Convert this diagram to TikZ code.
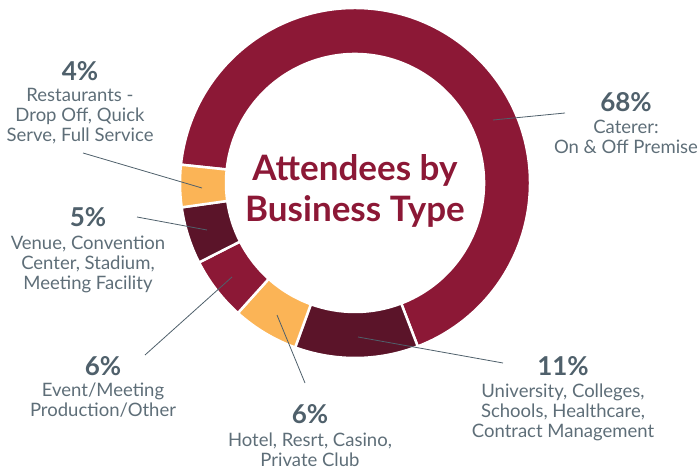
\documentclass[tikz,border=0pt]{standalone}
\usepackage{fontspec}
\setmainfont{Lato}
\usepackage{xcolor}
\usetikzlibrary{positioning}
\definecolor{wine}{HTML}{8C1836}
\definecolor{plum}{HTML}{5B1429}
\definecolor{amber}{HTML}{FBB456}
\definecolor{slate}{HTML}{4F606B}
\definecolor{mist}{HTML}{5E6E78}

\begin{document}
\begin{tikzpicture}[x = 1pt, y = -1pt,
  pct/.style = {anchor = base, inner sep = 0pt, text = slate, font = \fontsize{26}{28}\selectfont\bfseries},
  desc/.style = {inner sep = 0pt, text = mist, align = center, font = \fontsize{18.5}{20}\selectfont},
  heading/.style = {inner sep = 0pt, text = wine, align = center, font = \fontsize{35}{41}\selectfont\bfseries},
  leader/.style = {draw = slate, line width = 0.8pt},
  slice/.style = {draw = white, line width = 2.5pt}]
\useasboundingbox (0, 0) rectangle (699, 470);
\begin{scope}[shift = {(355, 183)}, y = 1pt]
\filldraw [slice, fill = wine] (174:175) arc (174:-69:175) -- (-69:129) arc (-69:174:129) -- cycle;
\filldraw [slice, fill = plum] (-69:175) arc (-69:-110:175) -- (-110:129) arc (-110:-69:129) -- cycle;
\filldraw [slice, fill = amber] (-110:175) arc (-110:-132:175) -- (-132:129) arc (-132:-110:129) -- cycle;
\filldraw [slice, fill = wine] (-132:175) arc (-132:-153:175) -- (-153:129) arc (-153:-132:129) -- cycle;
\filldraw [slice, fill = plum] (-153:175) arc (-153:-172:175) -- (-172:129) arc (-172:-153:129) -- cycle;
\filldraw [slice, fill = amber] (-172:175) arc (-172:-186:175) -- (-186:129) arc (-186:-172:129) -- cycle;
\end{scope}
\node [heading] (title) at (355, 191) {Attendees by\\Business Type};
\node [pct] (n68) at (626, 112) {68\%};
\node [desc, below = 8pt of n68.base] (t68) {Caterer:\\On \& Off Premise};
\node [pct] (n11) at (563, 375) {11\%};
\node [desc, below = 9pt of n11.base] (t11) {University, Colleges,\\Schools, Healthcare,\\Contract Management};
\node [pct] (nhotel) at (310, 423) {6\%};
\node [desc, below = 10pt of nhotel.base] (thotel) {Hotel, Resrt, Casino,\\Private Club};
\node [pct] (nevent) at (103, 375) {6\%};
\node [desc, below = 8pt of nevent.base] (tevent) {Event/Meeting\\Production/Other};
\node [pct] (nvenue) at (88, 227) {5\%};
\node [desc, below = 9pt of nvenue.base] (tvenue) {Venue, Convention\\Center, Stadium,\\Meeting Facility};
\node [pct] (nrest) at (80, 81) {4\%};
\node [desc, below = 7pt of nrest.base] (trest) {Restaurants -\\Drop Off, Quick\\Serve, Full Service};
\coordinate (a68) at (493, 120);
\coordinate (b68) at (565, 113);
\coordinate (a11) at (358, 337);
\coordinate (b11) at (503, 363);
\coordinate (ahotel) at (277, 315);
\coordinate (bhotel) at (305, 383);
\coordinate (aevent) at (232, 277);
\coordinate (bevent) at (145, 355);
\coordinate (avenue) at (207, 230);
\coordinate (bvenue) at (137, 217);
\coordinate (arest) at (202, 188);
\coordinate (brest) at (83, 153);
\draw [leader] (a68) -- (b68);
\draw [leader] (a11) -- (b11);
\draw [leader] (ahotel) -- (bhotel);
\draw [leader] (aevent) -- (bevent);
\draw [leader] (avenue) -- (bvenue);
\draw [leader] (arest) -- (brest);
\end{tikzpicture}
\end{document}
